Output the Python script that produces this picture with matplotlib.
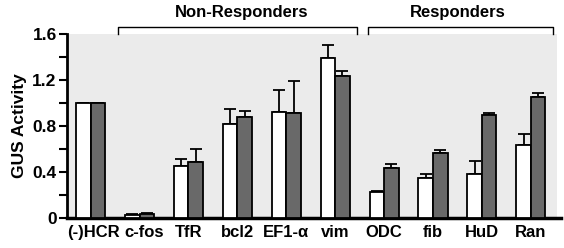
import matplotlib.pyplot as plt
import matplotlib.transforms as mtransforms
import numpy as np

# values
genes = ["(-)HCR", "c-fos", "TfR", "bcl2", "EF1-\u03b1", "vim", "ODC", "fib", "HuD", "Ran"]
white_vals = [1.0, 0.026, 0.452, 0.815, 0.922, 1.394, 0.223, 0.345, 0.38, 0.635]
white_tops = [1.0, 0.037, 0.51, 0.948, 1.113, 1.504, 0.235, 0.383, 0.498, 0.73]
gray_vals = [1.0, 0.035, 0.484, 0.876, 0.91, 1.235, 0.432, 0.565, 0.893, 1.05]
gray_tops = [1.0, 0.04, 0.597, 0.933, 1.19, 1.281, 0.467, 0.589, 0.91, 1.084]
yticks = [0, 0.4, 0.8, 1.2, 1.6]
ytick_labels = ["0", "0.4", "0.8", "1.2", "1.6"]

plt.rcParams['font.family'] = ['Liberation Sans', 'DejaVu Sans']
plt.rcParams['font.weight'] = 'bold'


def plot_chart():
    fig = plt.figure(figsize=(5.64, 2.48), dpi=100)
    ax = fig.add_axes([0.119, 0.121, 0.869, 0.742])
    ax.set_facecolor('#ebebeb')

    x = np.arange(len(genes))
    w = 0.297
    xw = x - w / 2
    xg = x + w / 2

    w_err = np.array(white_tops) - np.array(white_vals)
    g_err = np.array(gray_tops) - np.array(gray_vals)
    ax.errorbar(xw, white_vals, yerr=[np.zeros(len(x)), w_err], fmt='none',
                ecolor='black', elinewidth=1.3, capsize=4.3, capthick=1.3, zorder=2)
    ax.errorbar(xg, gray_vals, yerr=[np.zeros(len(x)), g_err], fmt='none',
                ecolor='black', elinewidth=1.3, capsize=4.3, capthick=1.3, zorder=2)
    ax.bar(xw, white_vals, w, color='white', edgecolor='black', linewidth=1.3, zorder=3)
    ax.bar(xg, gray_vals, w, color='#696969', edgecolor='black', linewidth=1.3, zorder=3)

    ax.set_xlim(-0.48, 9.54)
    ax.set_ylim(0, 1.6)
    ax.set_yticks(yticks)
    ax.set_yticklabels(ytick_labels, fontsize=12.5, fontweight='bold')
    ax.set_yticks([0.2, 0.6, 1.0, 1.4], minor=True)
    ax.tick_params(axis='y', which='both', direction='out', length=5.5, width=1.5, pad=2)
    ax.set_xticks(x)
    ax.set_xticklabels(genes, fontsize=12, fontweight='bold')
    ax.tick_params(axis='x', length=0, pad=5)

    # nudge the first two labels apart, as in the original
    shifts = [2.5, 4.5]
    for lab, dx in zip(ax.get_xticklabels()[:2], shifts):
        lab.set_transform(lab.get_transform() +
                          mtransforms.ScaledTranslation(dx / 100, 0, fig.dpi_scale_trans))

    for s in ['top', 'right']:
        ax.spines[s].set_visible(False)
    ax.spines['left'].set_linewidth(2)
    ax.spines['bottom'].set_linewidth(2.5)
    ax.spines['bottom'].set_bounds(-0.48, 9.62)

    ax.set_ylabel("GUS Activity", fontsize=12.5, fontweight='bold', labelpad=4)

    # group brackets above the plot
    tr = ax.get_xaxis_transform()
    for x0, x1, label, dx in [(0.56, 5.45, "Non-Responders", 0.08),
                              (5.67, 9.46, "Responders", -0.05)]:
        ax.plot([x0, x0, x1, x1], [1.0, 1.038, 1.038, 1.0], color='black',
                lw=1.0, transform=tr, clip_on=False)
        ax.text((x0 + x1) / 2 + dx, 1.115, label, transform=tr, ha='center', va='center',
                fontsize=12, fontweight='bold')

    fig.savefig("out.png", dpi=100)


plot_chart()
